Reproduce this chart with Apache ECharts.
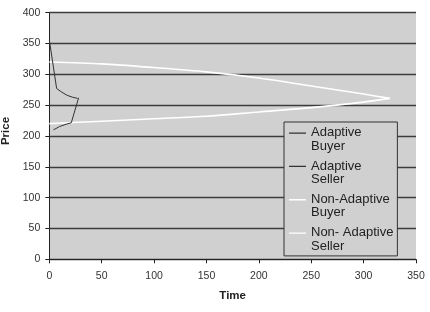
<!DOCTYPE html>
<html>
<head>
<meta charset="utf-8">
<script src="https://cdn.jsdelivr.net/npm/echarts@6/dist/echarts.min.js"></script>
<style>html,body{margin:0;padding:0;background:#fff}#c{width:430px;height:312px}</style>
</head>
<body>
<div id="c"></div>
<script>
var seriesNames = ['Adaptive\nBuyer', 'Adaptive\nSeller', 'Non-Adaptive\nBuyer', 'Non- Adaptive\nSeller'];
var adaptiveBuyerTime = [0, 7, 12, 17, 22, 27];
var adaptiveBuyerPrice = [356, 277, 271, 266, 263, 261];
var adaptiveSellerTime = [4, 10, 16, 21, 28];
var adaptiveSellerPrice = [210, 215.5, 219, 221.5, 262];
var nonAdaptiveBuyerTime = [0, 50, 100, 150, 200, 250, 300, 325];
var nonAdaptiveBuyerPrice = [320, 317, 311, 304, 294, 281, 268, 261];
var nonAdaptiveSellerTime = [0, 50, 100, 150, 200, 250, 300, 325];
var nonAdaptiveSellerPrice = [220, 224, 228, 232, 239, 246, 255, 261];
var xTicks = [0, 50, 100, 150, 200, 250, 300, 350];
var yTicks = [0, 50, 100, 150, 200, 250, 300, 350, 400];

function pairs(t, p) { return t.map(function (v, i) { return [v, p[i]]; }); }

var font = '"Liberation Sans", Arial, sans-serif';
var chart = echarts.init(document.getElementById('c'));
var lineColors = ['#333333', '#333333', '#ffffff', '#ffffff'];
var lineWidths = [1, 1, 1.6, 1.6];
var dataSets = [
  pairs(adaptiveBuyerTime, adaptiveBuyerPrice),
  pairs(adaptiveSellerTime, adaptiveSellerPrice),
  pairs(nonAdaptiveBuyerTime, nonAdaptiveBuyerPrice),
  pairs(nonAdaptiveSellerTime, nonAdaptiveSellerPrice)
];
chart.setOption({
  animation: false,
  backgroundColor: '#ffffff',
  grid: { left: 49.3, right: 14, top: 12.7, bottom: 52.7, show: true, backgroundColor: '#d0d0d0', borderWidth: 0, containLabel: false, outerBoundsMode: 'none' },
  xAxis: {
    type: 'value', min: xTicks[0], max: xTicks[xTicks.length - 1], interval: 50,
    name: 'Time', nameLocation: 'middle', nameGap: 31,
    nameTextStyle: { fontFamily: font, fontWeight: 'bold', fontSize: 11.5, color: '#222' },
    axisLine: { show: true, lineStyle: { color: '#222', width: 1 } },
    axisTick: { show: true, length: 4, lineStyle: { color: '#222' } },
    axisLabel: { fontFamily: font, fontSize: 10.5, color: '#333', margin: 11 },
    splitLine: { show: false }
  },
  yAxis: {
    type: 'value', min: yTicks[0], max: yTicks[yTicks.length - 1], interval: 50,
    name: 'Price', nameLocation: 'middle', nameGap: 37, nameRotate: 90,
    nameTextStyle: { fontFamily: font, fontWeight: 'bold', fontSize: 11.5, color: '#222', padding: [0, 0, 0, 10] },
    axisLine: { show: true, lineStyle: { color: '#222', width: 1 } },
    axisTick: { show: true, length: 4, lineStyle: { color: '#222' } },
    axisLabel: { fontFamily: font, fontSize: 10.5, color: '#333', margin: 9 },
    splitLine: { show: true, lineStyle: { color: '#3c3c3c', width: 1.3 } }
  },
  legend: {
    left: 284, top: 122, width: 113, orient: 'vertical',
    backgroundColor: '#d0d0d0', borderColor: '#333', borderWidth: 1,
    padding: [4, 4, 3, 5], itemGap: 6.3, itemWidth: 17, itemHeight: 14,
    icon: 'path://M0,0H17V1.3H0Z M0,13.99H0.01V14H0Z',
    textStyle: { fontFamily: font, fontSize: 13, color: '#222', lineHeight: 13.5 },
    data: seriesNames
  },
  series: seriesNames.map(function (n, i) {
    return {
      name: n, type: 'line', data: dataSets[i], showSymbol: false, symbol: 'none',
      lineStyle: { color: lineColors[i], width: lineWidths[i] }, itemStyle: { color: lineColors[i] },
      smooth: i < 2 ? false : 0.3, z: i < 2 ? 3 : 2
    };
  })
});
</script>
</body>
</html>
